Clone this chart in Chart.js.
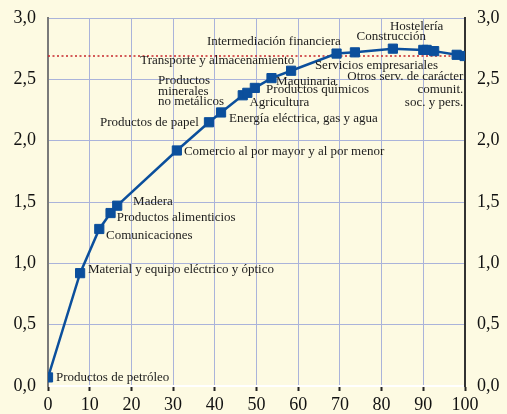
<!DOCTYPE html>
<html>
<head>
<meta charset="utf-8">
<script src="https://cdn.jsdelivr.net/npm/chart.js@4"></script>
<style>
  html, body { margin: 0; padding: 0; background: #fdfae2; }
  #wrap { width: 507px; height: 414px; }
</style>
</head>
<body>
<div id="wrap"><canvas id="myChart"></canvas></div>
<script>
// cumulative share of employment (x) vs. index (y)
const xValues = [0, 7.7, 12.3, 15.0, 16.6, 30.9, 38.6, 41.5, 46.7, 47.8, 49.6, 53.6, 58.3, 69.2, 73.6, 82.7, 90.0, 90.8, 92.6, 98.0, 99.9];
const yValues = [0.07, 0.92, 1.28, 1.41, 1.47, 1.92, 2.15, 2.23, 2.37, 2.39, 2.43, 2.51, 2.57, 2.71, 2.72, 2.75, 2.74, 2.74, 2.73, 2.70, 2.69];
const refLevel = 2.69;
const yTicks = [0, 0.5, 1, 1.5, 2, 2.5, 3];
const xTicks = [0, 10, 20, 30, 40, 50, 60, 70, 80, 90, 100];

// sector names, placed near their points (data units)
const sectorNames = [
  ["Productos de petróleo"],
  ["Material y equipo eléctrico y óptico"],
  ["Comunicaciones"],
  ["Productos alimenticios"],
  ["Madera"],
  ["Comercio al por mayor y al por menor"],
  ["Productos de papel"],
  ["Energía eléctrica, gas y agua"],
  ["Productos", "minerales", "no metálicos"],
  ["Agricultura"],
  ["Productos químicos"],
  ["Maquinaria"],
  ["Transporte y almacenamiento"],
  ["Intermediación financiera"],
  ["Servicios empresariales"],
  ["Construcción"],
  ["Hostelería"],
  ["Otros serv. de carácter", "comunit.", "soc. y pers."]
];

const labelSpots = [
  {x: 1.9, y: 0.065, a: "left"},
  {x: 9.6, y: 0.95, a: "left"},
  {x: 13.9, y: 1.23, a: "left"},
  {x: 16.5, y: 1.37, a: "left"},
  {x: 20.4, y: 1.50, a: "left"},
  {x: 32.6, y: 1.91, a: "left"},
  {x: 36.2, y: 2.15, a: "right"},
  {x: 43.4, y: 2.18, a: "left"},
  {x: 26.4, y: 2.49, a: "left", gap: 10.7},
  {x: 48.3, y: 2.31, a: "left"},
  {x: 52.3, y: 2.42, a: "left"},
  {x: 54.7, y: 2.48, a: "left"},
  {x: 22.1, y: 2.655, a: "left"},
  {x: 38.1, y: 2.81, a: "left"},
  {x: 64.0, y: 2.61, a: "left"},
  {x: 74.0, y: 2.845, a: "left"},
  {x: 82.0, y: 2.93, a: "left"},
  {x: 99.6, y: 2.52, a: "right", gap: 12.8}
];

const sectorLabels = {
  id: 'sectorLabels',
  afterDatasetsDraw(chart) {
    const ctx = chart.ctx;
    const xs = chart.scales.x, ys = chart.scales.y;
    ctx.save();
    ctx.font = '13px "Liberation Serif", serif';
    ctx.fillStyle = '#1c1c1c';
    ctx.textBaseline = 'middle';
    sectorNames.forEach((lines, i) => {
      const s = labelSpots[i];
      ctx.textAlign = s.a;
      const px = xs.getPixelForValue(s.x);
      const py = ys.getPixelForValue(s.y);
      lines.forEach((t, j) => ctx.fillText(t, px, py + j * (s.gap || 12)));
    });
    ctx.restore();
  }
};

const fmt = v => v.toFixed(1).replace('.', ',');
const tickFont = {family: '"Liberation Serif", serif', size: 18};
// small line height keeps the y labels from pushing the plot down
const yFont = {family: '"Liberation Serif", serif', size: 18, lineHeight: 0.6};

const ctx = document.getElementById('myChart').getContext('2d');
new Chart(ctx, {
  type: 'scatter',
  data: {
    datasets: [{
      data: xValues.map((x, i) => ({x: x, y: yValues[i]})),
      showLine: true,
      borderColor: '#0b4f9c',
      backgroundColor: '#0b4f9c',
      borderWidth: 2.5,
      pointStyle: 'rect',
      pointRadius: 6.5,
      pointBorderWidth: 1,
      order: 1
    }, {
      data: [{x: 0, y: refLevel}, {x: 100, y: refLevel}],
      showLine: true,
      borderColor: '#c6262b',
      borderWidth: 1.6,
      borderDash: [2, 2.5],
      pointRadius: 0,
      order: 2
    }]
  },
  options: {
    responsive: true,
    maintainAspectRatio: false,
    animation: false,
    layout: {padding: {top: 18, left: 0, right: 0, bottom: 0}},
    plugins: {legend: {display: false}, tooltip: {enabled: false}},
    scales: {
      x: {
        type: 'linear', min: 0, max: 100,
        afterBuildTicks: s => { s.ticks = xTicks.map(v => ({value: v})); },
        afterFit: s => { s.height = 28; },
        grid: {color: '#aab3da', lineWidth: 1, tickColor: '#222', tickLength: 5, tickWidth: 2},
        border: {color: '#ffffff', width: 2},
        ticks: {color: '#111', font: tickFont, padding: 3, maxRotation: 0}
      },
      y: {
        position: 'left', min: 0, max: 3,
        afterBuildTicks: s => { s.ticks = yTicks.map(v => ({value: v})); },
        afterFit: s => { s.width = 48; },
        grid: {color: '#aab3da', lineWidth: 1, drawTicks: false},
        border: {color: '#7a7a7a', width: 2},
        ticks: {color: '#111', font: yFont, padding: 12, callback: fmt}
      },
      y2: {
        position: 'right', min: 0, max: 3,
        afterBuildTicks: s => { s.ticks = yTicks.map(v => ({value: v})); },
        afterFit: s => { s.width = 42; },
        grid: {drawOnChartArea: false, drawTicks: false},
        border: {color: '#333', width: 2},
        ticks: {color: '#111', font: yFont, padding: 12, callback: fmt}
      }
    }
  },
  plugins: [sectorLabels]
});
</script>
</body>
</html>
